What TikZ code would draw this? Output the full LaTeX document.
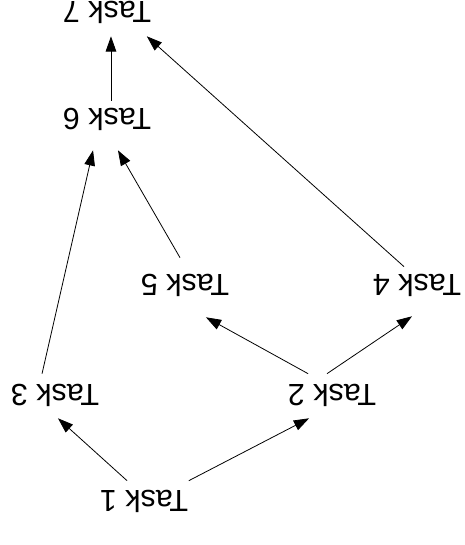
\documentclass[tikz,border=0pt]{standalone}
\usepackage{fontspec}
\setmainfont{Liberation Sans}
\usepackage{graphicx}
\usepackage{tikz}
\usetikzlibrary{arrows.meta}
\tikzstyle{task} = [inner sep=0pt,minimum height=30pt,font=\fontsize{23}{27}\selectfont]
\tikzset{>={Triangle[length=11.5pt,width=8pt]}}
\newcommand{\upside}[1]{\rotatebox{180}{#1}}

\begin{document}
\begin{tikzpicture}[line width=0.6pt]
    \useasboundingbox (0,0) rectangle (12.303,14.420);
    \node [task] (t1) at (3.810,1.164) {\upside{Task 1}};
    \node [task] (t2) at (8.784,3.969) {\upside{Task 2}};
    \node [task] (t3) at (1.455,3.969) {\upside{Task 3}};
    \node [task] (t4) at (11.033,6.879) {\upside{Task 4}};
    \node [task] (t5) at (4.895,6.879) {\upside{Task 5}};
    \node [task] (t6) at (2.831,11.271) {\upside{Task 6}};
    \node [task] (t7) at (2.831,14.102) {\upside{Task 7}};

    \draw [->] ([xshift=-12.75pt]t1.north) -- ([xshift=2.25pt,yshift=-2.25pt]t3.south);
    \draw [->] ([xshift=33.75pt]t1.north) -- ([xshift=-17.25pt,yshift=-2.25pt]t2.south);
    \draw [->] ([xshift=-18pt,yshift=0.75pt]t2.north) -- ([xshift=15.75pt,yshift=-9pt]t5.south);
    \draw [->] ([xshift=-3.75pt,yshift=0.75pt]t2.north) -- ([xshift=-3.75pt,yshift=-8.25pt]t4.south);
    \draw [->] ([xshift=-9.75pt,yshift=0.75pt]t3.north) -- ([xshift=-10.5pt,yshift=-8.25pt]t6.south);
    \draw [->] ([xshift=-3.75pt,yshift=5.25pt]t5.north) -- ([xshift=8.25pt,yshift=-8.25pt]t6.south);
    \draw [->] ([xshift=-9.75pt,yshift=-1.5pt]t4.north) -- ([xshift=30pt,yshift=-3pt]t7.south);
    \draw [->] ([xshift=3pt,yshift=-1.5pt]t6.north) -- ([xshift=3pt,yshift=-3pt]t7.south);
\end{tikzpicture}
\end{document}
